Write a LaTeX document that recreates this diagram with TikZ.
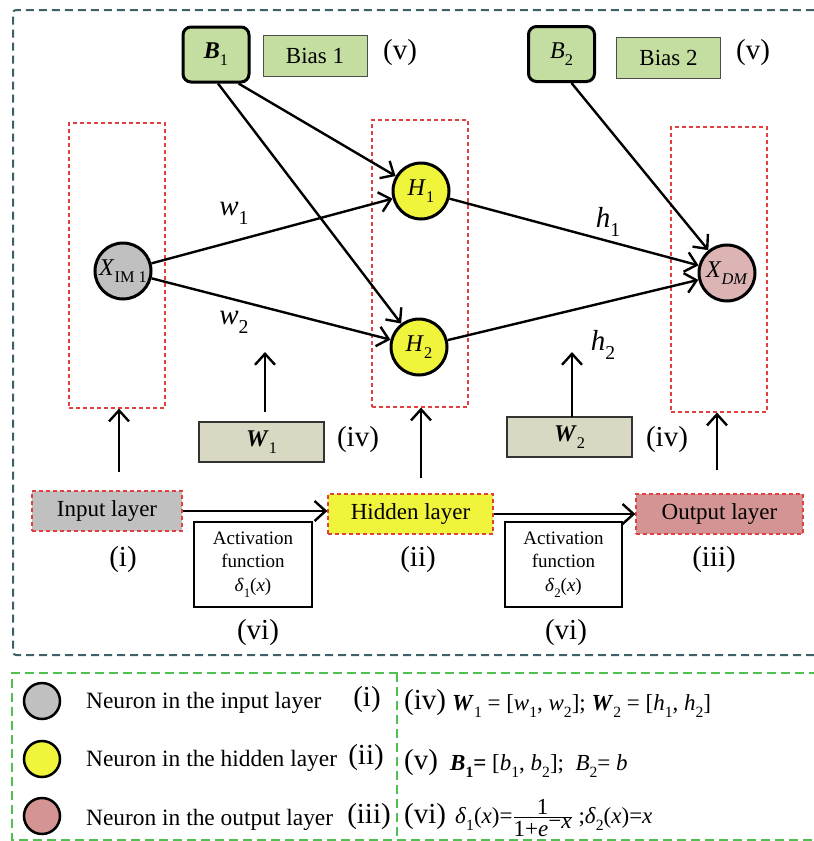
\documentclass[tikz,border=0pt]{standalone}
\usepackage{fontspec}
\setmainfont{Liberation Serif}
\usepackage{graphicx}
\usetikzlibrary{arrows.meta}
\definecolor{cteal}{HTML}{3E6068}
\definecolor{cgreenl}{HTML}{50C050}
\definecolor{cred}{HTML}{E04040}
\definecolor{cgreen}{HTML}{C4DDA0}
\definecolor{cgray}{HTML}{C0C0C0}
\definecolor{cyel}{HTML}{F0F53C}
\definecolor{cpinkl}{HTML}{DDB4B4}
\definecolor{cpink}{HTML}{D49494}
\definecolor{cbeige}{HTML}{D9D9C3}
\newcommand\sbs[1]{\raisebox{-0.3em}{\scalebox{0.68}{#1}}}
\tikzset{
 neuron/.style={circle, draw=black, line width=3pt, minimum size=56pt, inner sep=0pt, font=\fontsize{24}{26}\selectfont},
 lgneuron/.style={circle, draw=black, line width=2.5pt, minimum size=36pt, inner sep=0pt},
 layerrect/.style={draw=cred, dash pattern=on 4pt off 3pt, line width=1.2pt, minimum width=96pt, inner sep=0pt},
 lbox/.style={draw=cred, dash pattern=on 4pt off 3pt, line width=1.3pt, minimum height=40pt, inner sep=0pt, font=\fontsize{23}{26}\selectfont},
 bbox/.style={draw=black, line width=3pt, rounded corners=8pt, fill=cgreen, minimum width=66pt, minimum height=55pt, font=\fontsize{24}{26}\selectfont},
 biasbox/.style={draw=black!70, line width=1pt, fill=cgreen, minimum width=104pt, minimum height=41pt, font=\fontsize{23}{26}\selectfont},
 wbox/.style={draw=black!80, line width=1.3pt, fill=cbeige, minimum width=125pt, minimum height=40pt, font=\fontsize{24}{26}\selectfont},
 actbox/.style={draw, line width=1.2pt, minimum width=118pt, minimum height=85pt, align=center, font=\fontsize{19}{23.5}\selectfont, inner sep=0pt},
 roman/.style={font=\fontsize{29}{30}\selectfont, inner sep=0pt},
 wlab/.style={font=\fontsize{29}{30}\selectfont, inner sep=0pt},
 lgtext/.style={anchor=west, font=\fontsize{23.4}{26}\selectfont, inner sep=0pt},
 lgform/.style={anchor=west, font=\fontsize{23}{26}\selectfont, inner sep=0pt},
 arr/.style={-{Straight Barb[length=11pt,width=20pt]}, line width=2.4pt},
}
\begin{document}
\begin{tikzpicture}[x=1pt,y=-1pt]
\useasboundingbox (0,0) rectangle (814,841);
% frames
\draw[cteal, line width=2pt, dash pattern=on 8pt off 5pt, rounded corners=3pt] (840,655) -- (13,655) -- (13,10) -- (840,10);
\draw[cgreenl, line width=2pt, dash pattern=on 9pt off 5pt] (840,840) -- (12,840) -- (12,673) -- (840,673);
\draw[cgreenl, line width=1.5pt, dash pattern=on 9pt off 5pt] (397,673) -- (397,840);
% layer rectangles
\node[layerrect, minimum height=285pt] (rin) at (117,265.5) {};
\node[layerrect, minimum height=287pt] (rhid) at (420,263.5) {};
\node[layerrect, minimum height=285pt] (rout) at (719,269.5) {};
% bias boxes
\node[bbox] (b1) at (216,54.5) {\textbf{\textit{B}}\sbs{1}};
\node[biasbox] (bias1) at (315,55.5) {Bias 1};
\node[roman] (v1) at (400,53) {(v)};
\node[bbox] (b2) at (561.5,54) {\textit{B}\sbs{2}};
\node[biasbox] (bias2) at (668.5,57.5) {Bias 2};
\node[roman] (v2) at (753,53) {(v)};
% neurons
\node[neuron, fill=cgray] (x) at (123,271) {\textit{X}\sbs{IM 1}};
\node[neuron, fill=cyel] (h1) at (421,191) {\textit{H}\sbs{1}};
\node[neuron, fill=cyel] (h2) at (419,347) {\textit{H}\sbs{2}};
\node[neuron, fill=cpinkl] (xdm) at (727,273) {\textit{X}\sbs{\textit{DM}}};
% connections
\draw[arr] (x) -- (h1);
\draw[arr] (x) -- (h2);
\draw[arr] ([xshift=-12pt]b1.south east) -- (h1);
\draw[arr] ([xshift=2pt]b1.south) -- (h2);
\draw[arr] (h1) -- (xdm);
\draw[arr] (h2) -- (xdm);
\draw[arr] ([xshift=10pt]b2.south) -- (xdm);
% weight labels
\node[wlab] (lw1) at (234,213) {\textit{w}\sbs{1}};
\node[wlab] (lw2) at (234,322) {\textit{w}\sbs{2}};
\node[wlab] (lh1) at (608,222) {\textit{h}\sbs{1}};
\node[wlab] (lh2) at (603,345) {\textit{h}\sbs{2}};
% weight boxes
\node[wbox] (w1) at (261.5,442) {\textbf{\textit{W}}\sbs{1}};
\node[roman] (iv1) at (358,440) {(iv)};
\node[wbox] (w2) at (569.5,437) {\textbf{\textit{W}}\sbs{2}};
\node[roman] (iv2) at (667,440) {(iv)};
\coordinate (cw1) at (265,412);
\coordinate (cw2) at (572,417);
\draw[arr] (cw1) -- (265,352);
\draw[arr] (cw2) -- (572,352);
% bottom layer boxes
\node[lbox, fill=cgray, minimum width=150pt] (il) at (107,511) {Input layer};
\node[lbox, fill=cyel, minimum width=165pt] (hl) at (410.5,514) {Hidden layer};
\node[lbox, fill=cpink, minimum width=167pt] (ol) at (719.5,514) {Output layer};
\draw[arr] (il.east) -- (il.east -| hl.west);
\draw[arr] (hl.east) -- (ol.west);
\coordinate (ci) at (119,472);
\coordinate (ch) at (421,478);
\coordinate (co) at (717,470);
\draw[arr] (ci) -- (ci |- rin.south);
\draw[arr] (ch) -- (ch |- rhid.south);
\draw[arr] (co) -- (co |- rout.south);
\node[roman] (r1) at (123,560) {(i)};
\node[roman] (r2) at (418,560) {(ii)};
\node[roman] (r3) at (714,560) {(iii)};
\node[actbox] (act1) at (253,564.5) {Activation\\function\\\textit{δ}\sbs{1}(\textit{x})};
\node[actbox, minimum width=117pt] (act2) at (563.5,564.5) {Activation\\function\\\textit{δ}\sbs{2}(\textit{x})};
\node[roman] (r6a) at (258,633) {(vi)};
\node[roman] (r6b) at (566,633) {(vi)};
% legend
\node[lgneuron, fill=cgray] (g1) at (42,701) {};
\node[lgneuron, fill=cyel] (g2) at (42,759) {};
\node[lgneuron, fill=cpink] (g3) at (42,816) {};
\node[lgtext] (t1) at (86,703) {Neuron in the input layer};
\node[lgtext] (t2) at (86,761) {Neuron in the hidden layer};
\node[lgtext] (t3) at (86,820) {Neuron in the output layer};
\node[roman] (lr1) at (367,700) {(i)};
\node[roman] (lr2) at (366,758) {(ii)};
\node[roman] (lr3) at (369,817) {(iii)};
\node[roman, anchor=west] (lr4) at (404,703) {(iv)};
\node[roman, anchor=west] (lr5) at (404,763) {(v)};
\node[roman, anchor=west] (lr6) at (404,817) {(vi)};
\node[lgform] (f1) at (452,706) {\textbf{\textit{W}}\sbs{1} = [\textit{w}\sbs{1}, \textit{w}\sbs{2}];\ \textbf{\textit{W}}\sbs{2} = [\textit{h}\sbs{1}, \textit{h}\sbs{2}]};
\node[lgform] (f2) at (450,766) {\textbf{\textit{B}\sbs{1}=} [\textit{b}\sbs{1}, \textit{b}\sbs{2}];\ \ \textit{B}\sbs{2}= \textit{b}};
\node[lgform] (f3) at (455,818) {\textit{δ}\sbs{1}(\textit{x})=$\frac{\mbox{1}}{\mbox{1+\textit{e}\raisebox{0.35em}{−\textit{x}}}}$ ;\textit{δ}\sbs{2}(\textit{x})=\textit{x}};
\end{tikzpicture}
\end{document}
